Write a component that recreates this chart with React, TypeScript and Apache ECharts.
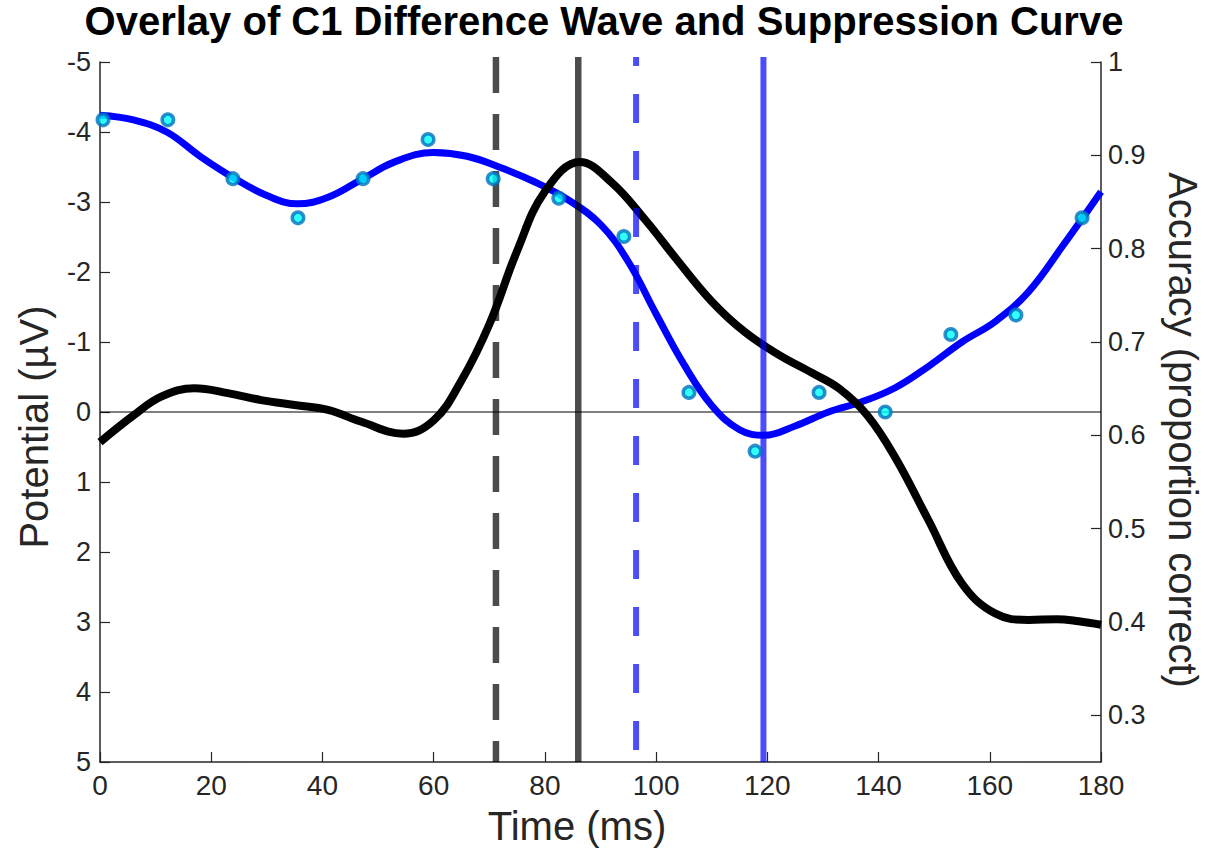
import React, { useEffect, useRef } from "react";
import * as echarts from "echarts";

// ---- data ----
const diffWaveTimes = [0, 6, 11, 17, 23, 29, 35, 41, 47, 54.5, 60, 65, 70, 75, 80, 86.3, 92, 98, 104, 110, 116, 122, 128, 133, 138, 143, 149, 155, 161, 167, 172, 176, 180];
const diffWaveValues = [0.43, 0.05, -0.22, -0.34, -0.27, -0.17, -0.1, -0.03, 0.14, 0.31, 0.12, -0.45, -1.25, -2.3, -3.15, -3.57, -3.28, -2.75, -2.15, -1.58, -1.14, -0.82, -0.56, -0.33, 0.05, 0.65, 1.55, 2.45, 2.88, 2.97, 2.96, 2.99, 3.04];

const fitTimes = [0, 6, 12, 18, 24, 30, 35.5, 41, 47, 53, 60, 66, 72, 78, 84, 90, 95, 100, 105, 110, 115, 119.5, 125, 131, 137, 143, 149, 155, 161, 167, 173, 180];
const fitAccuracy = [0.943, 0.938, 0.925, 0.899, 0.876, 0.857, 0.848, 0.855, 0.874, 0.893, 0.903, 0.899, 0.887, 0.872, 0.853, 0.826, 0.786, 0.73, 0.676, 0.632, 0.606, 0.6, 0.61, 0.625, 0.636, 0.651, 0.674, 0.7, 0.722, 0.754, 0.802, 0.861];

const obsTimes = [0.54, 12.2, 23.9, 35.6, 47.3, 59.0, 70.7, 82.5, 94.2, 105.9, 117.8, 129.3, 141.2, 153.0, 164.7, 176.6];
const obsAccuracy = [0.938, 0.938, 0.875, 0.833, 0.875, 0.917, 0.875, 0.854, 0.813, 0.646, 0.583, 0.646, 0.625, 0.708, 0.729, 0.833];

const markerTimes = { grayDashed: 71.2, graySolid: 86.0, blueDashed: 96.4, blueSolid: 119.3 };

const xTicks = { min: 0, max: 180, interval: 20 };
const potentialTicks = { min: -5, max: 5, interval: 1 };
const accuracyTickValues = [0.3, 0.4, 0.5, 0.6, 0.7, 0.8, 0.9, 1];
const accuracyRange = { min: 0.25, max: 1 };

const FONT = '"Liberation Sans", Arial, sans-serif';
const TEXT = "#262626";

function zip(xs: number[], ys: number[]) {
  return xs.map((x, i) => [x, ys[i]]);
}

function vline(t: number, color: string, dash: number[] | "solid", width: number, z: number, offset = 0) {
  return {
    type: "line",
    yAxisIndex: 0,
    data: [[t, -5.07], [t, 5]],
    symbol: "none",
    clip: false,
    z,
    lineStyle: { color, width, type: dash, dashOffset: offset, cap: "butt" },
    silent: true,
  };
}

export default function App() {
  const ref = useRef<HTMLDivElement>(null);
  useEffect(() => {
    if (!ref.current) return;
    const chart = echarts.init(ref.current, undefined, { renderer: "svg" });
    chart.setOption({
      animation: false,
      backgroundColor: "#ffffff",
      title: {
        text: "Overlay of C1 Difference Wave and Suppression Curve",
        left: "center",
        top: -4,
        textStyle: { fontFamily: FONT, fontSize: 40, fontWeight: "bold", color: "#000" },
      },
      grid: { left: 100, right: 107, top: 62, bottom: 88, containLabel: false },
      xAxis: {
        type: "value",
        min: xTicks.min,
        max: xTicks.max,
        interval: xTicks.interval,
        axisLine: { onZero: false, lineStyle: { color: TEXT, width: 1.5 } },
        axisTick: { inside: true, length: 10, lineStyle: { color: TEXT, width: 1.2 } },
        axisLabel: { color: TEXT, fontSize: 28, fontFamily: FONT, margin: 9 },
        splitLine: { show: false },
      },
      yAxis: [
        {
          type: "value",
          inverse: true,
          min: potentialTicks.min,
          max: potentialTicks.max,
          interval: potentialTicks.interval,
          axisLine: { show: true, onZero: false, lineStyle: { color: TEXT, width: 1.5 } },
          axisTick: { show: true, inside: true, length: 10, lineStyle: { color: TEXT, width: 1.2 } },
          axisLabel: { color: TEXT, fontSize: 27, fontFamily: FONT, margin: 9 },
          splitLine: { show: false },
        },
        {
          type: "value",
          position: "right",
          min: accuracyRange.min,
          max: accuracyRange.max,
          axisLine: { show: true, onZero: false, lineStyle: { color: TEXT, width: 1.5 } },
          axisTick: { show: true, inside: true, length: 10, customValues: accuracyTickValues, lineStyle: { color: TEXT, width: 1.2 } },
          axisLabel: { color: TEXT, fontSize: 27, fontFamily: FONT, margin: 7, customValues: accuracyTickValues },
          splitLine: { show: false },
        },
      ],
      graphic: [
        {
          type: "text",
          x: 577,
          y: 826,
          style: { text: "Time (ms)", font: `40px ${FONT}`, fill: TEXT, textAlign: "center", textVerticalAlign: "middle" },
        },
        {
          type: "text",
          x: 34,
          y: 427,
          rotation: Math.PI / 2,
          style: { text: "Potential (µV)", font: `40px ${FONT}`, fill: TEXT, textAlign: "center", textVerticalAlign: "middle" },
        },
        {
          type: "text",
          x: 1183,
          y: 430,
          rotation: -Math.PI / 2,
          style: { text: "Accuracy (proportion correct)", font: `40px ${FONT}`, fill: TEXT, textAlign: "center", textVerticalAlign: "middle" },
        },
      ],
      series: [
        {
          type: "line",
          name: "zero",
          yAxisIndex: 0,
          data: [[0, 0], [180, 0]],
          symbol: "none",
          z: 1,
          lineStyle: { color: "#000", width: 1.2 },
          silent: true,
        },
        {
          type: "line",
          name: "Suppression curve",
          yAxisIndex: 1,
          data: zip(fitTimes, fitAccuracy),
          smooth: 0.4,
          symbol: "none",
          z: 2,
          lineStyle: { color: "#0000ff", width: 7 },
        },
        {
          type: "line",
          name: "C1 difference wave",
          yAxisIndex: 0,
          data: zip(diffWaveTimes, diffWaveValues),
          smooth: 0.4,
          symbol: "none",
          z: 3,
          lineStyle: { color: "#000000", width: 8 },
        },
        vline(markerTimes.grayDashed, "rgba(0,0,0,0.7)", [36, 21], 6.5, 4),
        vline(markerTimes.graySolid, "rgba(0,0,0,0.7)", "solid", 6.5, 4),
        vline(markerTimes.blueDashed, "rgba(0,0,255,0.7)", [29, 28], 6, 4, 20),
        vline(markerTimes.blueSolid, "rgba(0,0,255,0.7)", "solid", 6, 4),
        {
          type: "scatter",
          name: "Observed accuracy",
          yAxisIndex: 1,
          data: zip(obsTimes, obsAccuracy),
          symbol: "circle",
          symbolSize: 11.5,
          z: 5,
          itemStyle: { color: "#00ffff", borderColor: "#0072bd", borderWidth: 3.5 },
        },
      ],
    });
    return () => chart.dispose();
  }, []);
  return <div ref={ref} style={{ position: "fixed", left: 0, top: 0, width: 1208, height: 850 }} />;
}
